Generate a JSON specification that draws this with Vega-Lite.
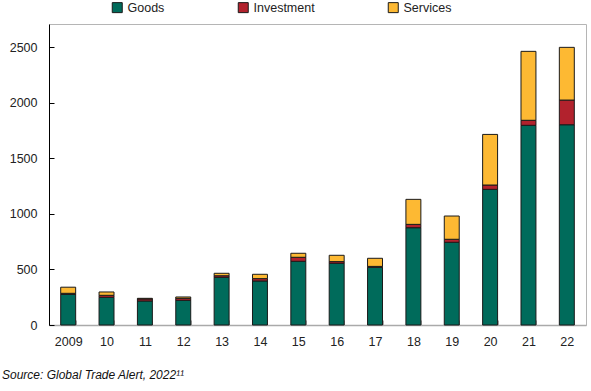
{
  "$schema": "https://vega.github.io/schema/vega-lite/v6.json",
  "autosize": {"type": "none"},
  "padding": {"left": 49, "top": 24, "right": 5, "bottom": 66},
  "width": 537,
  "height": 301,
  "config": {
    "font": "Liberation Sans",
    "view": {"stroke": "#b5b5b5", "strokeWidth": 1},
    "axis": {"labelFont": "Liberation Sans", "labelColor": "#222", "labelFontSize": 12.5, "grid": false, "title": null}
  },
  "title": {
    "text": "Source: Global Trade Alert, 2022¹¹",
    "orient": "bottom",
    "anchor": "start",
    "frame": "group",
    "dx": -47,
    "offset": 22,
    "font": "Liberation Sans",
    "fontSize": 12,
    "fontStyle": "italic",
    "fontWeight": "normal",
    "color": "#111"
  },
  "data": {
    "values": [
      {"year": "2009", "type": "Goods", "o": 1, "v": 275},
      {"year": "2009", "type": "Investment", "o": 2, "v": 10},
      {"year": "2009", "type": "Services", "o": 3, "v": 55},
      {"year": "10", "type": "Goods", "o": 1, "v": 249},
      {"year": "10", "type": "Investment", "o": 2, "v": 18},
      {"year": "10", "type": "Services", "o": 3, "v": 30},
      {"year": "11", "type": "Goods", "o": 1, "v": 216},
      {"year": "11", "type": "Investment", "o": 2, "v": 18},
      {"year": "11", "type": "Services", "o": 3, "v": 6},
      {"year": "12", "type": "Goods", "o": 1, "v": 222},
      {"year": "12", "type": "Investment", "o": 2, "v": 18},
      {"year": "12", "type": "Services", "o": 3, "v": 12},
      {"year": "13", "type": "Goods", "o": 1, "v": 429},
      {"year": "13", "type": "Investment", "o": 2, "v": 14},
      {"year": "13", "type": "Services", "o": 3, "v": 22},
      {"year": "14", "type": "Goods", "o": 1, "v": 396},
      {"year": "14", "type": "Investment", "o": 2, "v": 21},
      {"year": "14", "type": "Services", "o": 3, "v": 39},
      {"year": "15", "type": "Goods", "o": 1, "v": 573},
      {"year": "15", "type": "Investment", "o": 2, "v": 36},
      {"year": "15", "type": "Services", "o": 3, "v": 36},
      {"year": "16", "type": "Goods", "o": 1, "v": 555},
      {"year": "16", "type": "Investment", "o": 2, "v": 15},
      {"year": "16", "type": "Services", "o": 3, "v": 57},
      {"year": "17", "type": "Goods", "o": 1, "v": 519},
      {"year": "17", "type": "Investment", "o": 2, "v": 8},
      {"year": "17", "type": "Services", "o": 3, "v": 73},
      {"year": "18", "type": "Goods", "o": 1, "v": 875},
      {"year": "18", "type": "Investment", "o": 2, "v": 30},
      {"year": "18", "type": "Services", "o": 3, "v": 225},
      {"year": "19", "type": "Goods", "o": 1, "v": 744},
      {"year": "19", "type": "Investment", "o": 2, "v": 27},
      {"year": "19", "type": "Services", "o": 3, "v": 209},
      {"year": "20", "type": "Goods", "o": 1, "v": 1220},
      {"year": "20", "type": "Investment", "o": 2, "v": 39},
      {"year": "20", "type": "Services", "o": 3, "v": 455},
      {"year": "21", "type": "Goods", "o": 1, "v": 1796},
      {"year": "21", "type": "Investment", "o": 2, "v": 45},
      {"year": "21", "type": "Services", "o": 3, "v": 620},
      {"year": "22", "type": "Goods", "o": 1, "v": 1801},
      {"year": "22", "type": "Investment", "o": 2, "v": 222},
      {"year": "22", "type": "Services", "o": 3, "v": 474}
    ]
  },
  "mark": {"type": "bar", "stroke": "#1a1a1a", "strokeWidth": 1},
  "encoding": {
    "x": {
      "field": "year",
      "type": "ordinal",
      "sort": ["2009","10","11","12","13","14","15","16","17","18","19","20","21","22"],
      "scale": {"paddingInner": 0.61, "paddingOuter": 0.305},
      "axis": {
        "labelAngle": 0,
        "domainColor": "#aaaaaa",
        "domainWidth": 1.5,
        "tickColor": "#aaaaaa",
        "tickBand": "extent",
        "tickSize": -5,
        "labelPadding": 15
      }
    },
    "y": {
      "field": "v",
      "type": "quantitative",
      "stack": "zero",
      "scale": {"domain": [0, 2707], "nice": false},
      "axis": {
        "values": [0, 500, 1000, 1500, 2000, 2500],
        "format": "d",
        "domainColor": "#000",
        "tickColor": "#000",
        "tickSize": -5,
        "labelPadding": 17
      }
    },
    "color": {
      "field": "type",
      "type": "nominal",
      "scale": {"domain": ["Goods", "Investment", "Services"], "range": ["#006b5b", "#b2222d", "#fdb933"]},
      "legend": {
        "title": null,
        "orient": "none",
        "direction": "horizontal",
        "legendX": 62,
        "legendY": -23,
        "padding": 0,
        "symbolType": "square",
        "symbolSize": 100,
        "symbolStrokeColor": "#1a1a1a",
        "symbolStrokeWidth": 1,
        "symbolOpacity": 1,
        "labelFont": "Liberation Sans",
        "labelFontSize": 12.5,
        "labelColor": "#222",
        "labelOffset": 4,
        "columnPadding": 71
      }
    },
    "order": {"field": "o", "type": "quantitative"}
  }
}
